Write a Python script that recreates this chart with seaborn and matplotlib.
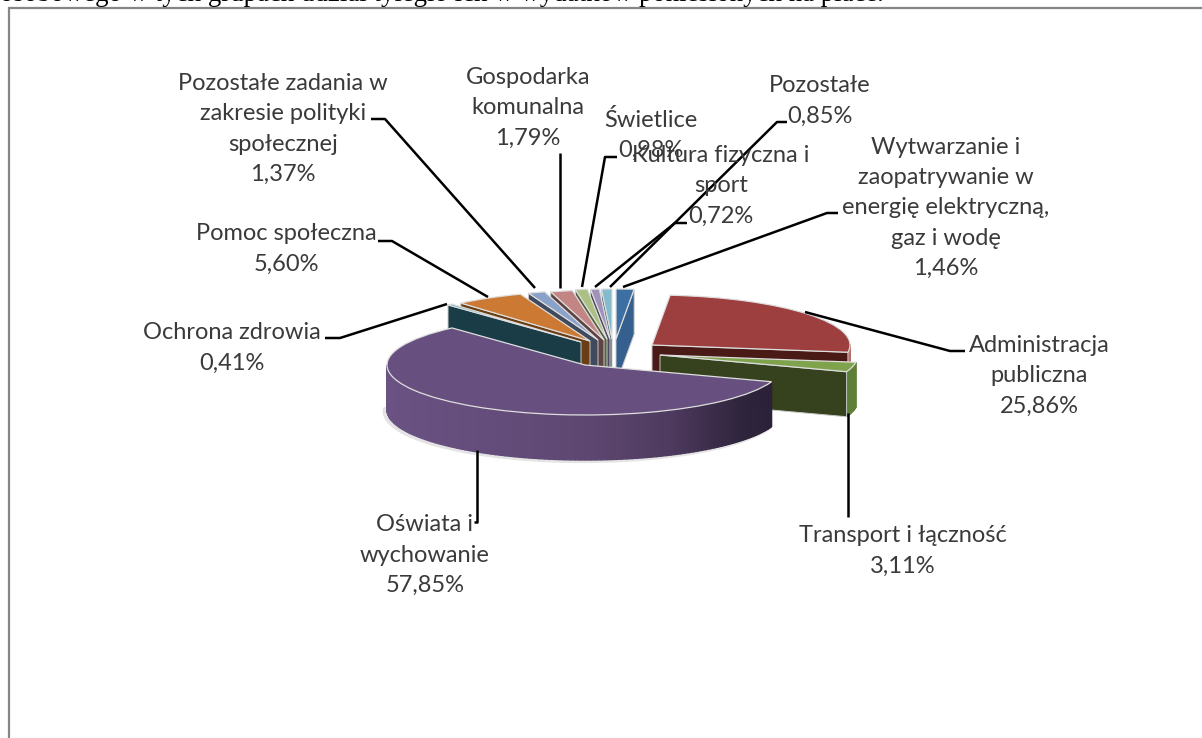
import numpy as np
import seaborn as sns
import matplotlib.pyplot as plt
from matplotlib.patches import Polygon

# Values in pie order, clockwise from twelve o'clock
labels = [
    "Wytwarzanie i\nzaopatrywanie w\nenergię elektryczną,\ngaz i wodę",
    "Administracja\npubliczna",
    "Transport i łączność",
    "Oświata i\nwychowanie",
    "Ochrona zdrowia",
    "Pomoc społeczna",
    "Pozostałe zadania w\nzakresie polityki\nspołecznej",
    "Gospodarka\nkomunalna",
    "Świetlice",
    "Kultura fizyczna i\nsport",
    "Pozostałe",
]
shares = [1.46, 25.86, 3.11, 57.85, 0.41, 5.60, 1.37, 1.79, 0.98, 0.72, 0.85]
caption = "osobowego w tych grupach udział tyległo ich w wydatków poniesionych na płace."

top_colors = ["#3D6FA3", "#9C3F3E", "#7FA24C", "#67507F", "#4FA3BA", "#CC7A33",
              "#8AA2C9", "#C38584", "#ABC184", "#A093B9", "#83BACD"]
face_colors = ["#355F8F", "#4A1A16", "#36421D", "#2A2036", "#193C46", "#6B3D12",
               "#3F4A5E", "#5E4342", "#55613F", "#50495D", "#42606A"]
wall_colors = ["#355F8F", "#B56F6D", "#5D7F38", "#6A5283", "#193C46", "#6B3D12",
               "#3F4A5E", "#5E4342", "#55613F", "#50495D", "#42606A"]

# Layout in picture pixels
PIE_X, PIE_Y = 585, 365
RX, RY = 198, 50
DEPTH = 45 / RY
centers = [(616, 339), (652, 345), (660, 355), (585, 365), (581, 342), (590, 341),
           (598, 340), (604, 340), (607, 339), (610, 339), (612, 339)]
draw_order = [0, 10, 9, 8, 7, 6, 5, 4, 1, 2, 3]

label_pos = [(946, 208), (1039, 376), (903, 551), (425, 555), (232, 348), (286, 249),
             (283, 129), (528, 108), (651, 135), (721, 186), (820, 101)]
leaders = [
    [(623, 287), (827, 213), (838, 213)],
    [(805, 312), (950, 351), (965, 351)],
    [(848, 413), (848, 517)],
    [(477, 450), (477, 522), (474, 522)],
    [(447, 304), (340, 338), (325, 338)],
    [(488, 297), (392, 241), (378, 241)],
    [(535, 288), (385, 119), (371, 119)],
    [(560, 288), (560, 153)],
    [(582, 287), (605, 157), (617, 157)],
    [(595, 287), (675, 223), (687, 223)],
    [(610, 287), (777, 122), (787, 122)],
]

sns.set_theme(style="white")
plt.rcParams["font.family"] = ["Lato", "DejaVu Sans"]


def to_data(x, y):
    return (np.asarray(x, dtype=float) - PIE_X) / RX, (PIE_Y - np.asarray(y, dtype=float)) / RY


def rim(wedge, angle):
    cx, cy = wedge.center
    return cx + np.cos(np.radians(angle)), cy + np.sin(np.radians(angle))


def wall_shade(angle, i):
    # only the big slice has a visible gradient on its outer wall
    if i != 3:
        return wall_colors[i]
    pos = (np.cos(np.radians(angle)) + 1) / 2
    r = np.interp(pos, [0, 0.5, 0.72, 0.9, 1], [0x6A, 0x5E, 0x4E, 0x2E, 0x2A])
    g = np.interp(pos, [0, 0.5, 0.72, 0.9, 1], [0x52, 0x48, 0x3A, 0x24, 0x20])
    b = np.interp(pos, [0, 0.5, 0.72, 0.9, 1], [0x83, 0x72, 0x5E, 0x3C, 0x36])
    return (r / 255, g / 255, b / 255)


def draw_depth(ax, wedge, i, z):
    start, end = wedge.theta1 % 360, wedge.theta2 % 360
    if end <= start:
        end += 360
    cx, cy = wedge.center

    # outer wall, only the part turned to the viewer
    angles = np.arange(start, end + 1.5, 1.5)
    angles[-1] = end
    for a0, a1 in zip(angles[:-1], angles[1:]):
        if np.sin(np.radians((a0 + a1) / 2)) > 0:
            continue
        x0, y0 = rim(wedge, a0)
        x1, y1 = rim(wedge, a1)
        shade = wall_shade((a0 + a1) / 2, i)
        ax.add_patch(Polygon([(x0, y0), (x1, y1), (x1, y1 - DEPTH), (x0, y0 - DEPTH)],
                             facecolor=shade, edgecolor=shade, lw=1.0, zorder=z))

    # cut face that looks to the viewer
    if i == 3:
        return
    edge = start if np.cos(np.radians((start + end) / 2)) > 0 else end
    ex, ey = rim(wedge, edge)
    ax.add_patch(Polygon([(cx, cy), (ex, ey), (ex, ey - DEPTH), (cx, cy - DEPTH)],
                         facecolor=face_colors[i], edgecolor="#c8c8c8", lw=0.7, zorder=z + 1))


fig = plt.figure(figsize=(12.02, 7.38), dpi=100)
ax = fig.add_axes([0, 0, 1, 1])

wedges, _ = ax.pie(shares, startangle=90, counterclock=False, colors=top_colors,
                   wedgeprops=dict(edgecolor="#dedede", linewidth=0.9))
ax.set_aspect("auto")
ax.set_xlim(*to_data([0, 1202], [0, 0])[0])
ax.set_ylim(*to_data([0, 0], [738, 0])[1])
ax.set_axis_off()

# soft shadow under the big slice
big = wedges[3]
big.set_center(to_data(*centers[3]))
shadow_angles = np.linspace(big.theta1 % 360, (big.theta2 % 360), 120)
shadow_angles = shadow_angles[np.sin(np.radians(shadow_angles)) < 0.05]
sx = np.cos(np.radians(shadow_angles)) - 0.012
sy = np.sin(np.radians(shadow_angles)) - DEPTH - 0.02
ax.plot(sx, sy, color="#e4e4e4", lw=3, zorder=1)

for rank, i in enumerate(draw_order):
    wedge = wedges[i]
    wedge.set_center(to_data(*centers[i]))
    z = 10 + rank * 3
    draw_depth(ax, wedge, i, z)
    wedge.set_zorder(z + 2)

for points in leaders:
    xs, ys = to_data(*zip(*points))
    ax.plot(xs, ys, color="black", lw=1.8, zorder=60, solid_capstyle="butt")

for name, share, (x, y) in zip(labels, shares, label_pos):
    tx, ty = to_data(x, y)
    text = f"{name}\n{share:.2f}%".replace(".", ",")
    ax.text(tx, ty, text, ha="center", va="center", fontsize=17, color="#3a3a3a",
            linespacing=1.53, zorder=70)

# chart frame, cut by the picture edge
fx, fy = to_data([9, 9, 1202], [738, 8, 8])
ax.plot(fx, fy, color="#868686", lw=1.6, zorder=5, solid_joinstyle="miter")

# last line of the page text above the chart, cut by the top edge
cx, cy = to_data(0, 1)
ax.text(cx, cy, caption, ha="left", va="baseline", fontsize=19.4, color="black",
        family="Liberation Serif", zorder=70)

plt.savefig("out.png", dpi=100)
plt.close()
